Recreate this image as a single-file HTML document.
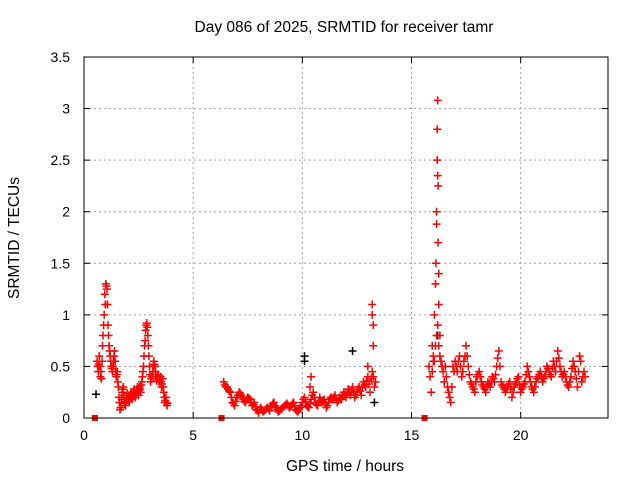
<!DOCTYPE html>
<html><head><meta charset="utf-8"><style>
body{margin:0;background:#fff;}
svg{display:block;font-family:"Liberation Sans",sans-serif;}
</style></head><body>
<svg id="chart" width="640" height="480">
<text x="344" y="32" font-size="15.5" text-anchor="middle">Day 086 of 2025, SRMTID for receiver tamr</text>
<text x="345" y="471" font-size="15.5" text-anchor="middle">GPS time / hours</text>
<text transform="translate(19,238) rotate(-90)" font-size="15.5" text-anchor="middle">SRMTID / TECUs</text>
<g id="grid"></g><g id="ticks"></g><g id="marks"></g>
<rect x="84" y="57" width="524" height="361" fill="none" stroke="#000" stroke-width="1"/>
</svg>
<script>
const xTicks=[0,5,10,15,20];
const yTicks=[0,0.5,1,1.5,2,2.5,3,3.5];
const yTickLabels=["0","0.5","1","1.5","2","2.5","3","3.5"];
const seg1Start=0.6, seg1Step=0.05;
const seg1Values=[0.55,0.45,0.6,0.4,0.38,0.7,0.9,1.2,1.3,1.25,0.9,0.7,0.6,0.5,0.45,0.55,0.65,0.45,0.42,0.35,0.2,0.08,0.1,0.25,0.3,0.15,0.12,0.2,0.22,0.18,0.2,0.25,0.18,0.22,0.28,0.2,0.25,0.3,0.22,0.3,0.25,0.35,0.45,0.6,0.75,0.9,0.88,0.7,0.5,0.35,0.4,0.45,0.55,0.5,0.4,0.38,0.42,0.35,0.4,0.3,0.38,0.25,0.15,0.2,0.12];
const seg1bValues=[0.5,0.52,0.5,0.45,0.55,0.8,1.0,1.1,1.28,1.1,0.8,0.65,0.55,0.48,0.5,0.6,0.55,0.4,0.45,0.3,0.15,0.1,0.18,0.28,0.22,0.14,0.16,0.24,0.2,0.16,0.22,0.2,0.21,0.26,0.24,0.22,0.28,0.26,0.27,0.28,0.32,0.4,0.5,0.7,0.85,0.92,0.8,0.6,0.42,0.38,0.42,0.5,0.52,0.45,0.36,0.4,0.38,0.37,0.35,0.33,0.3,0.2,0.17,0.15,0.14];
const seg2Start=6.4, seg2Step=0.1;
const seg2Values=[0.35,0.3,0.28,0.25,0.15,0.12,0.2,0.25,0.22,0.18,0.15,0.2,0.18,0.12,0.15,0.08,0.05,0.1,0.06,0.08,0.1,0.07,0.12,0.15,0.1,0.06,0.08,0.1,0.12,0.14,0.1,0.12,0.15,0.08,0.06,0.1,0.15,0.2,0.12,0.1,0.18,0.25,0.15,0.12,0.2,0.15,0.18,0.1,0.15,0.2,0.18,0.22,0.15,0.2,0.18,0.25,0.2,0.28,0.22,0.3,0.2,0.25,0.3,0.22,0.35,0.3,0.4,0.25,0.45,0.3];
const seg2bValues=[0.32,0.3,0.26,0.2,0.14,0.16,0.22,0.24,0.2,0.16,0.18,0.19,0.15,0.13,0.11,0.07,0.08,0.08,0.07,0.09,0.09,0.1,0.14,0.12,0.08,0.07,0.09,0.11,0.13,0.12,0.11,0.14,0.12,0.07,0.08,0.12,0.18,0.16,0.11,0.14,0.22,0.2,0.13,0.16,0.17,0.16,0.14,0.12,0.18,0.19,0.2,0.18,0.17,0.19,0.22,0.23,0.24,0.25,0.26,0.25,0.22,0.28,0.26,0.3,0.32,0.36,0.33,0.38,0.4,0.35];
const seg3Start=15.8, seg3Step=0.1;
const seg3Values=[0.5,0.25,0.6,0.7,0.9,0.6,0.5,0.35,0.4,0.25,0.15,0.5,0.55,0.45,0.6,0.4,0.55,0.7,0.5,0.35,0.3,0.25,0.4,0.45,0.35,0.3,0.25,0.35,0.3,0.4,0.35,0.5,0.65,0.35,0.3,0.25,0.3,0.35,0.2,0.3,0.35,0.4,0.25,0.3,0.35,0.5,0.4,0.3,0.25,0.35,0.4,0.45,0.35,0.4,0.5,0.45,0.4,0.55,0.45,0.65,0.5,0.4,0.45,0.35,0.3,0.4,0.55,0.45,0.3,0.6,0.35,0.45];
const seg3bValues=[0.4,0.45,0.55,0.8,0.7,0.55,0.45,0.5,0.3,0.2,0.3,0.45,0.5,0.55,0.5,0.45,0.6,0.6,0.42,0.33,0.28,0.35,0.42,0.4,0.32,0.28,0.3,0.33,0.35,0.38,0.42,0.58,0.5,0.32,0.28,0.28,0.33,0.28,0.25,0.33,0.38,0.32,0.28,0.33,0.42,0.45,0.35,0.28,0.3,0.38,0.42,0.4,0.38,0.45,0.48,0.42,0.48,0.5,0.55,0.58,0.45,0.42,0.4,0.32,0.35,0.48,0.5,0.38,0.45,0.55,0.4,0.4];
const extraTimes=[13.2,13.2,13.25,13.25,10.4,10.35,13.0,16.05,16.1,16.12,16.15,16.15,16.18,16.18,16.2,16.2,16.22,16.22,16.25,16.25,16.3,15.95,16.0];
const extraValues=[1.1,1.0,0.9,0.7,0.4,0.3,0.5,1.0,1.3,1.5,1.88,2.0,2.5,2.8,3.08,2.35,2.25,1.7,1.1,1.4,0.8,0.7,0.55];
const blackTimes=[0.55,10.1,10.1,12.3,16.2,13.3];
const blackValues=[0.23,0.6,0.55,0.65,0.8,0.15];
const squareTimes=[0.5,6.3,15.6];
const squareValues=[0,0,0];

const NS="http://www.w3.org/2000/svg";
const X0=84,X1=608,Y0=418,Y1=57;
function xs(t){return X0+t*(X1-X0)/24;}
function ys(v){return Y0-v*(Y0-Y1)/3.5;}
function mk(tag,attrs,parent){const e=document.createElementNS(NS,tag);for(const k in attrs)e.setAttribute(k,attrs[k]);parent.appendChild(e);return e;}
const grid=document.getElementById('grid'),ticks=document.getElementById('ticks'),marks=document.getElementById('marks');
xTicks.forEach(t=>{
  const x=xs(t);
  if(t>0){const g=mk('line',{x1:x,x2:x,y1:Y1,y2:Y0,stroke:'#a0a0a0','stroke-dasharray':'2,3'},grid);
  
  }
  mk('line',{x1:x,x2:x,y1:Y0,y2:Y0-6,stroke:'#000'},ticks);
  mk('line',{x1:x,x2:x,y1:Y1,y2:Y1+6,stroke:'#000'},ticks);
  const l=mk('text',{x:x,y:Y0+22,'font-size':14,'text-anchor':'middle'},ticks);
  l.textContent=t;
  
  
});
yTicks.forEach((v,i)=>{
  const y=ys(v);
  if(v>0&&v<3.5){const g=mk('line',{x1:X0,x2:X1,y1:y,y2:y,stroke:'#a0a0a0','stroke-dasharray':'2,3'},grid);
  
  }
  mk('line',{x1:X0,x2:X0+6,y1:y,y2:y,stroke:'#000'},ticks);
  mk('line',{x1:X1,x2:X1-6,y1:y,y2:y,stroke:'#000'},ticks);
  const l=mk('text',{x:X0-14,y:y+5,'font-size':14,'text-anchor':'end'},ticks);
  l.textContent=yTickLabels[i];
  
  
});
function plus(t,v,color,name){
  const x=xs(t),y=ys(v);
  const p=mk('path',{d:`M${x-4},${y}h8M${x},${y-4}v8`,stroke:color,'stroke-width':1.5,fill:'none'},marks);
  
  
}
blackTimes.forEach((t,i)=>plus(t,blackValues[i],'#000','black-point'));
[[seg1Start,seg1Step,seg1Values],[seg1Start+seg1Step/2,seg1Step,seg1bValues],
 [seg2Start,seg2Step,seg2Values],[seg2Start+seg2Step/2,seg2Step,seg2bValues],
 [seg3Start,seg3Step,seg3Values],[seg3Start+seg3Step/2,seg3Step,seg3bValues]].forEach(s=>{
  s[2].forEach((v,i)=>plus(s[0]+i*s[1],v,'#ff0000','srmtid-point'));
});
extraTimes.forEach((t,i)=>plus(t,extraValues[i],'#ff0000','srmtid-point'));
squareTimes.forEach((t,i)=>{
  const r=mk('rect',{x:xs(t)-3,y:ys(squareValues[i])-3,width:6,height:6,fill:'#ff0000'},marks);
  
  
});
</script>
</body></html>
